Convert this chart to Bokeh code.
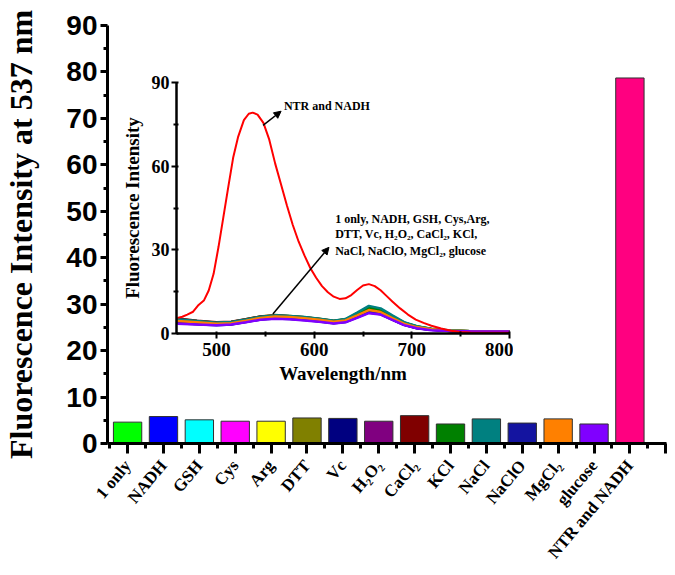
import math
from bokeh.plotting import figure
from bokeh.models import Range1d, FixedTicker, Label, Arrow, NormalHead
from bokeh.layouts import column
from bokeh.embed import file_html
from bokeh.resources import INLINE

# ---------------- main bar chart data ----------------
categories = ["1 only", "NADH", "GSH", "Cys", "Arg", "DTT", "Vc", "H\u2082O\u2082",
              "CaCl\u2082", "KCl", "NaCl", "NaClO", "MgCl\u2082", "glucose", "NTR and NADH"]
intensity_537 = [4.6, 5.8, 5.1, 4.8, 4.8, 5.5, 5.4, 4.8, 6.0, 4.2, 5.3, 4.4, 5.3, 4.2, 78.7]
bar_colors = ["#00ff00", "#0000ff", "#00ffff", "#ff00ff", "#ffff00", "#808000", "#000080",
              "#800080", "#800000", "#008000", "#008080", "#1414a0", "#ff8000", "#8000ff", "#ff0080"]
bar_positions = [1, 2, 3, 4, 5, 6, 7, 8, 9, 10, 11, 12, 13, 14, 15]
x_major_ticks = [1, 2, 3, 4, 5, 6, 7, 8, 9, 10, 11, 12, 13, 14, 15, 16]
x_minor_ticks = [0.5, 1.5, 2.5, 3.5, 4.5, 5.5, 6.5, 7.5, 8.5, 9.5, 10.5, 11.5, 12.5, 13.5, 14.5, 15.5]
y_major_ticks = [0, 10, 20, 30, 40, 50, 60, 70, 80, 90]
y_minor_ticks = [5, 15, 25, 35, 45, 55, 65, 75, 85]

# ---------------- inset spectra data ----------------
wl = [460, 480, 500, 515, 530, 545, 560, 575, 590, 605, 620, 632, 644, 656, 668, 680, 692, 705, 720, 740, 760, 800]
sp_1only = [4.6, 4.0, 3.5, 3.7, 4.6, 5.6, 6.0, 5.8, 5.4, 4.9, 4.2, 4.7, 6.6, 8.6, 7.8, 5.6, 3.6, 2.3, 1.5, 1.0, 0.8, 0.7]
sp_nadh = [4.2, 3.7, 3.3, 3.5, 4.4, 5.3, 5.7, 5.5, 5.1, 4.6, 4.0, 4.4, 6.2, 8.0, 7.3, 5.2, 3.3, 2.1, 1.4, 0.9, 0.8, 0.7]
sp_gsh = [5.0, 4.4, 3.8, 4.0, 5.0, 6.0, 6.4, 6.2, 5.8, 5.2, 4.5, 5.1, 7.3, 9.6, 8.8, 6.3, 4.0, 2.6, 1.6, 1.0, 0.8, 0.7]
sp_cys = [4.4, 3.9, 3.4, 3.6, 4.5, 5.5, 5.9, 5.7, 5.3, 4.8, 4.1, 4.6, 6.4, 8.2, 7.5, 5.4, 3.5, 2.2, 1.4, 1.0, 0.8, 0.7]
sp_arg = [4.9, 4.3, 3.7, 3.9, 4.9, 5.9, 6.4, 6.1, 5.7, 5.1, 4.4, 5.0, 7.0, 9.1, 8.4, 6.1, 3.9, 2.5, 1.6, 1.0, 0.8, 0.7]
sp_dtt = [5.2, 4.5, 3.9, 4.1, 5.1, 6.1, 6.6, 6.3, 5.8, 5.3, 4.6, 5.1, 7.1, 9.0, 8.3, 6.0, 3.9, 2.5, 1.6, 1.0, 0.8, 0.7]
sp_vc = [4.0, 3.5, 3.2, 3.4, 4.3, 5.2, 5.6, 5.4, 5.0, 4.5, 3.9, 4.3, 6.0, 7.8, 7.1, 5.1, 3.2, 2.0, 1.3, 0.9, 0.8, 0.7]
sp_h2o2 = [3.8, 3.4, 3.1, 3.3, 4.2, 5.1, 5.5, 5.3, 4.9, 4.4, 3.8, 4.2, 5.9, 7.5, 6.9, 5.0, 3.1, 2.0, 1.3, 0.9, 0.8, 0.7]
sp_cacl2 = [5.4, 4.6, 4.0, 4.2, 5.1, 6.1, 6.5, 6.2, 5.8, 5.2, 4.5, 5.0, 6.9, 8.8, 8.1, 5.9, 3.8, 2.4, 1.5, 1.0, 0.8, 0.7]
sp_kcl = [4.8, 4.2, 3.6, 3.8, 4.8, 5.8, 6.2, 6.0, 5.6, 5.1, 4.4, 5.0, 7.1, 9.3, 8.5, 6.1, 3.9, 2.5, 1.6, 1.0, 0.8, 0.7]
sp_nacl = [5.1, 4.5, 3.9, 4.1, 5.0, 6.0, 6.5, 6.3, 5.9, 5.3, 4.6, 5.2, 7.5, 9.9, 9.0, 6.5, 4.1, 2.6, 1.7, 1.1, 0.8, 0.7]
sp_naclo = [3.7, 3.3, 3.0, 3.2, 4.1, 5.0, 5.4, 5.2, 4.8, 4.3, 3.7, 4.1, 5.8, 7.6, 7.0, 5.0, 3.1, 1.9, 1.3, 0.9, 0.8, 0.7]
sp_mgcl2 = [4.5, 4.0, 3.5, 3.7, 4.6, 5.6, 6.1, 5.9, 5.5, 4.9, 4.2, 4.7, 6.5, 8.4, 7.7, 5.5, 3.5, 2.3, 1.5, 1.0, 0.8, 0.7]
sp_glucose = [3.5, 3.2, 3.0, 3.2, 4.0, 4.9, 5.3, 5.1, 4.7, 4.2, 3.6, 4.0, 5.6, 7.3, 6.8, 4.9, 3.0, 1.9, 1.2, 0.9, 0.8, 0.7]
small_spectra = [sp_1only, sp_nadh, sp_gsh, sp_cys, sp_arg, sp_dtt, sp_vc, sp_h2o2, sp_cacl2,
                 sp_kcl, sp_nacl, sp_naclo, sp_mgcl2, sp_glucose]

wl_ntr = [460, 465, 470, 476, 481, 487, 492, 497, 502, 507, 512, 517, 522, 528, 533, 537, 542, 548,
          554, 560, 566, 572, 578, 584, 590, 596, 602, 608, 614, 620, 626, 632, 638, 644, 650, 656,
          662, 668, 674, 680, 688, 696, 704, 712, 720, 730, 740, 750, 760, 780, 800]
sp_ntr = [5.6, 6.0, 6.8, 7.8, 10.0, 11.8, 15.4, 21.4, 31.0, 41.7, 52.5, 63.0, 70.4, 76.5, 78.8, 79.2,
          78.5, 75.5, 69.5, 61.0, 53.5, 46.0, 39.0, 33.0, 28.0, 23.5, 20.0, 17.0, 14.8, 13.2, 12.4,
          12.6, 13.8, 15.6, 17.2, 17.7, 17.0, 15.5, 13.5, 11.5, 9.0, 6.8, 5.0, 3.8, 2.8, 1.8, 1.0,
          0.5, 0.35, 0.3, 0.3]
inset_x_major = [500, 600, 700, 800]
inset_x_minor = [550, 650, 750]
inset_y_major = [0, 30, 60, 90]
inset_y_minor = [15, 45, 75]

SERIF = "Liberation Serif"
SANS = "Liberation Sans"

# layout constants (pixels)
BORDER_L = 103
BORDER_R = 4

# ---------------- main figure ----------------
p = figure(width=670, height=573, x_range=Range1d(0.44, 16.02), y_range=Range1d(0, 90),
           output_backend="svg", toolbar_location=None,
           min_border_left=BORDER_L, min_border_right=BORDER_R, min_border_top=25, min_border_bottom=130)
p.outline_line_color = None
p.grid.visible = False
p.background_fill_color = "white"

p.vbar(x=bar_positions, top=intensity_537, width=0.79, fill_color=bar_colors,
       line_color="#303030", line_width=1)

xa = p.xaxis[0]
xa.ticker = FixedTicker(ticks=x_major_ticks, minor_ticks=x_minor_ticks)
overrides = {pos: name for pos, name in zip(bar_positions, categories)}
overrides[16] = ""
xa.major_label_overrides = overrides
xa.major_label_orientation = math.radians(50)
xa.major_label_text_font = SERIF
xa.major_label_text_font_style = "bold"
xa.major_label_text_font_size = "17px"
xa.major_label_text_color = "black"
xa.major_label_standoff = 9
xa.axis_line_width = 3
xa.major_tick_line_width = 3
xa.minor_tick_line_width = 3
xa.major_tick_in = 0
xa.major_tick_out = 10
xa.minor_tick_in = 0
xa.minor_tick_out = 5

ya = p.yaxis[0]
ya.ticker = FixedTicker(ticks=y_major_ticks, minor_ticks=y_minor_ticks)
ya.major_label_text_font = SANS
ya.major_label_text_font_style = "bold"
ya.major_label_text_font_size = "28px"
ya.major_label_text_color = "black"
ya.major_label_standoff = 3
ya.axis_line_width = 3
ya.major_tick_line_width = 3
ya.minor_tick_line_width = 3
ya.major_tick_in = 0
ya.major_tick_out = 7
ya.minor_tick_in = 0
ya.minor_tick_out = 4
ya.axis_label = "Fluorescence Intensity at 537 nm"
ya.axis_label_text_font = SERIF
ya.axis_label_text_font_style = "bold"
ya.axis_label_text_font_size = "32px"
ya.axis_label_text_color = "black"
ya.axis_label_standoff = 24

# ---------------- inset figure ----------------
ins = figure(width=BORDER_L + 337 + BORDER_R, height=321, x_range=Range1d(459, 800), y_range=Range1d(0, 90),
             output_backend="svg", toolbar_location=None,
             min_border_left=BORDER_L, min_border_right=BORDER_R, min_border_top=10, min_border_bottom=60)
ins.outline_line_color = None
ins.grid.visible = False
ins.background_fill_alpha = 0
ins.border_fill_alpha = 0
ins.styles = {"position": "absolute", "left": "69px", "top": "72px", "z-index": "2"}

for spec, col in zip(small_spectra, bar_colors[:14]):
    ins.line(wl, spec, line_color=col, line_width=2.5)
ins.line(wl_ntr, sp_ntr, line_color="#ff0000", line_width=2)

ix = ins.xaxis[0]
ix.ticker = FixedTicker(ticks=inset_x_major, minor_ticks=inset_x_minor)
iy = ins.yaxis[0]
iy.ticker = FixedTicker(ticks=inset_y_major, minor_ticks=inset_y_minor)
for ax in (ix, iy):
    ax.major_label_text_font = SERIF
    ax.major_label_text_font_style = "bold"
    ax.major_label_text_color = "black"
    ax.axis_label_text_font = SERIF
    ax.axis_label_text_font_style = "bold"
    ax.axis_label_text_font_size = "19px"
    ax.axis_label_text_color = "black"
    ax.axis_line_width = 2.5
    ax.major_tick_line_width = 2
    ax.minor_tick_line_width = 2
    ax.major_tick_in = 2
    ax.major_tick_out = 5
    ax.minor_tick_in = 2
    ax.minor_tick_out = 3
ix.major_label_text_font_size = "19px"
iy.major_label_text_font_size = "18px"
ix.major_label_standoff = 4
iy.major_label_standoff = 2
ix.axis_label = "Wavelength/nm"
iy.axis_label = "Fluorescence Intensity"
ix.axis_label_standoff = 4
iy.axis_label_standoff = 6

ins.add_layout(Label(x=569, y=81.7, text="NTR and NADH", text_font=SERIF, text_font_style="bold",
                     text_font_size="12px", text_baseline="middle", text_color="black"))
block_lines = ["1 only, NADH, GSH, Cys,Arg,",
               "DTT, Vc, H\u2082O\u2082, CaCl\u2082, KCl,",
               "NaCl, NaClO, MgCl\u2082, glucose"]
block_y = [41.2, 35.5, 29.7]
for txt, yy in zip(block_lines, block_y):
    ins.add_layout(Label(x=621.5, y=yy, text=txt, text_font=SERIF, text_font_style="bold",
                         text_font_size="12px", text_baseline="middle", text_color="black"))

ins.add_layout(Arrow(end=NormalHead(size=7, fill_color="black", line_color="black"),
                     x_start=547.6, y_start=74.6, x_end=566.1, y_end=79.7,
                     line_color="black", line_width=1.5))
ins.add_layout(Arrow(end=NormalHead(size=7, fill_color="black", line_color="black"),
                     x_start=557.7, y_start=7.0, x_end=615.1, y_end=30.9,
                     line_color="black", line_width=1.5))

layout = column(p, ins)
open("out.html", "w").write(file_html(layout, INLINE))
